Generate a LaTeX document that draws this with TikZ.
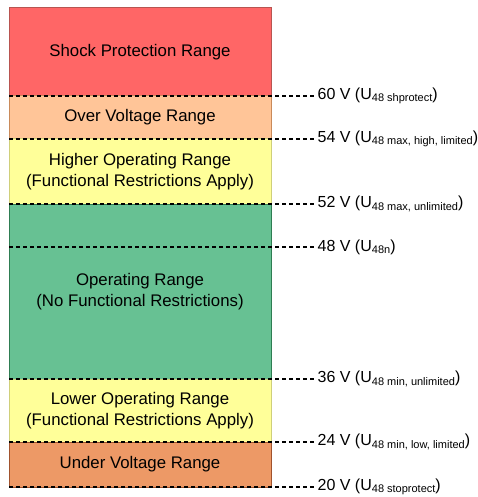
\documentclass[tikz,border=0pt]{standalone}
\usepackage{fontspec}
\setmainfont{Liberation Sans}
\usetikzlibrary{calc}

% colours of the voltage bands
\definecolor{shockfill}{HTML}{FF6666}
\definecolor{shockline}{HTML}{B85450}
\definecolor{overfill}{HTML}{FFC598}
\definecolor{overline}{HTML}{C98A5A}
\definecolor{limfill}{HTML}{FFFF99}
\definecolor{limline}{HTML}{CFCF7A}
\definecolor{opfill}{HTML}{67C193}
\definecolor{opline}{HTML}{2E7D52}
\definecolor{underfill}{HTML}{ED9966}
\definecolor{underline}{HTML}{A0522D}

% subscript of a voltage name
\newcommand{\vsub}[1]{\raisebox{-0.3ex}{\fontsize{11}{11}\selectfont #1}}

\tikzset{
  band/.style={draw, line width=1pt, minimum width=262pt, inner sep=0pt, outer sep=0pt,
    anchor=north west, align=center, font=\fontsize{16.8}{21}\selectfont},
  levelline/.style={line width=1.3pt, dash pattern=on 4pt off 3pt},
  levellabel/.style={anchor=west, inner sep=1pt, font=\fontsize{16}{19}\selectfont}
}

\begin{document}
\begin{tikzpicture}[x=1pt,y=-1pt]
\useasboundingbox (0,0) rectangle (478,497);

% the stack of ranges, top to bottom
\node[band, fill=shockfill, draw=shockline, minimum height=88pt] (shock) at (9,8)
  {Shock Protection Range};
\node[band, fill=overfill, draw=overline, minimum height=43pt] (over) at (shock.south west)
  {Over Voltage Range};
\node[band, fill=limfill, draw=limline, minimum height=65pt] (high) at (over.south west)
  {Higher Operating Range\\(Functional Restrictions Apply)};
\node[band, fill=opfill, draw=opline, minimum height=175pt] (oper) at (high.south west)
  {Operating Range\\(No Functional Restrictions)};
\node[band, fill=limfill, draw=limline, minimum height=63pt] (low) at (oper.south west)
  {Lower Operating Range\\(Functional Restrictions Apply)};
\node[band, fill=underfill, draw=underline, minimum height=45pt] (under) at (low.south west)
  {Under Voltage Range};

% voltage levels
\coordinate (l60) at (shock.south west);
\coordinate (l54) at (over.south west);
\coordinate (l52) at (high.south west);
\coordinate (l48) at ($(oper.north west)+(0,43)$);
\coordinate (l36) at (oper.south west);
\coordinate (l24) at (low.south west);
\coordinate (l20) at (under.south west);

\draw[levelline] (l60) -- ++(307,0) node[levellabel] (t60) {60 V (U\vsub{48 shprotect})};
\draw[levelline] (l54) -- ++(307,0) node[levellabel] (t54) {54 V (U\vsub{48 max, high, limited})};
\draw[levelline] (l52) -- ++(307,0) node[levellabel] (t52) {52 V (U\vsub{48 max, unlimited})};
\draw[levelline] (l48) -- ++(307,0) node[levellabel] (t48) {48 V (U\vsub{48n})};
\draw[levelline] (l36) -- ++(307,0) node[levellabel] (t36) {36 V (U\vsub{48 min, unlimited})};
\draw[levelline] (l24) -- ++(307,0) node[levellabel] (t24) {24 V (U\vsub{48 min, low, limited})};
\draw[levelline] (l20) -- ++(307,0) node[levellabel] (t20) {20 V (U\vsub{48 stoprotect})};
\end{tikzpicture}
\end{document}
